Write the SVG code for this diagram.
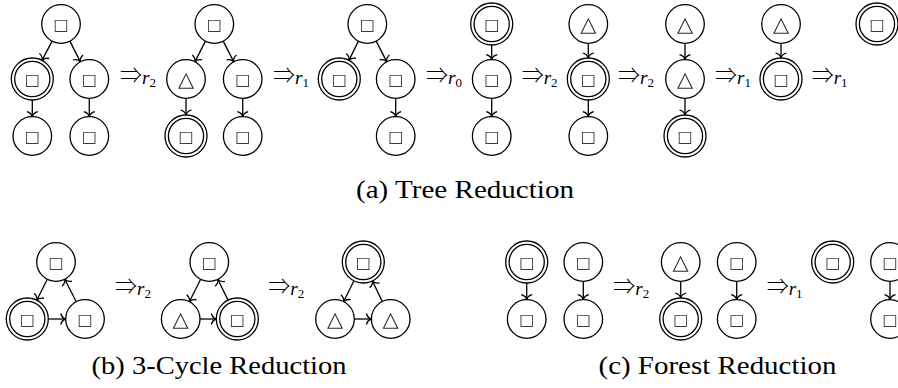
<svg xmlns="http://www.w3.org/2000/svg" width="898" height="388" viewBox="0 0 898 388">
<style>
.c{fill:#fff;stroke:#000;stroke-width:1.3}
.ci{fill:none;stroke:#000;stroke-width:1.3}
.sq{font-family:"DejaVu Sans",sans-serif;font-size:16px;fill:#3a3a3a;text-anchor:middle;dominant-baseline:central;filter:url(#gs)}
.tr{font-family:"DejaVu Sans",sans-serif;font-size:21px;fill:#2a2a2a;text-anchor:middle;dominant-baseline:central;filter:url(#gs)}
.e{fill:none;stroke:#000;stroke-width:1.3;marker-end:url(#to)}
.op{font-family:"Noto Sans CJK SC","DejaVu Sans",sans-serif;font-weight:300;font-size:22px;fill:#000}
.r{font-family:"Liberation Serif",serif;font-style:italic;font-weight:400;font-size:19px}
.s{font-family:"Liberation Serif",serif;font-weight:400;font-size:13px}
.cap{font-family:"Liberation Serif",serif;font-size:26px;fill:#000;text-anchor:middle}
</style>
<defs>
<filter id="gs" x="-20%" y="-20%" width="140%" height="140%"><feOffset dx="0" dy="0"/></filter>
<marker id="to" viewBox="-7 -7 9 14" refX="0" refY="0" markerWidth="9" markerHeight="14" markerUnits="userSpaceOnUse" orient="auto">
<path d="M-5,-5.5 C-4,-2 -1.5,-0.4 0,0 C-1.5,0.4 -4,2 -5,5.5" fill="none" stroke="#000" stroke-width="1.3"/>
</marker>
<g id="S"><circle class="c" r="19.3"/></g>
<g id="D"><circle class="c" r="21"/><circle class="ci" r="17.6"/></g>
</defs>

<g id="connectors">
<path class="e" d="M52.12,41.14 L41.96,60.35"/>
<path class="e" d="M69.88,41.14 L80.42,61.86"/>
<path class="e" d="M32.3,100 L32.3,116.7"/>
<path class="e" d="M89.3,98.3 L89.3,116.7"/>
<path class="e" d="M205.42,41.14 L194.88,61.86"/>
<path class="e" d="M223.18,41.14 L233.82,61.86"/>
<path class="e" d="M186,98.3 L186,115"/>
<path class="e" d="M242.7,98.3 L242.7,116.7"/>
<path class="e" d="M358.42,41.14 L348.96,60.35"/>
<path class="e" d="M376.18,41.14 L386.82,61.86"/>
<path class="e" d="M395.7,98.3 L395.7,116.7"/>
<path class="e" d="M491.7,45 L491.7,59.7"/>
<path class="e" d="M491.7,98.3 L491.7,116.7"/>
<path class="e" d="M588.3,43.3 L588.3,58"/>
<path class="e" d="M588.3,100 L588.3,116.7"/>
<path class="e" d="M685,43.3 L685,59.7"/>
<path class="e" d="M685,98.3 L685,115"/>
<path class="e" d="M781,43.3 L781,58"/>
<path class="e" d="M47.32,279.24 L36.74,300.24"/>
<path class="e" d="M48.3,319 L65.7,319"/>
<path class="e" d="M76.25,301.8 L64.75,279.2"/>
<path class="e" d="M200.65,279.25 L189.35,301.75"/>
<path class="e" d="M200,319 L216.3,319"/>
<path class="e" d="M228.04,300.15 L217.81,279.32"/>
<path class="e" d="M353.96,280.81 L343.58,301.71"/>
<path class="e" d="M354.3,319 L371.4,319"/>
<path class="e" d="M382.34,301.6 L372.4,280.93"/>
<path class="e" d="M526.7,283 L526.7,299.7"/>
<path class="e" d="M583.3,281.3 L583.3,299.7"/>
<path class="e" d="M680.7,281.3 L680.7,298"/>
<path class="e" d="M736.7,281.3 L736.7,299.7"/>
<path class="e" d="M890,281.3 L890,299.7"/>
</g>

<g id="a1-top"><use href="#S" x="61" y="24"/><text class="sq" x="61" y="24">□</text></g>
<g id="a1-ml"><use href="#D" x="32.3" y="79"/><text class="sq" x="32.3" y="79">□</text></g>
<g id="a1-mr"><use href="#S" x="89.3" y="79"/><text class="sq" x="89.3" y="79">□</text></g>
<g id="a1-bl"><use href="#S" x="32.3" y="136"/><text class="sq" x="32.3" y="136">□</text></g>
<g id="a1-br"><use href="#S" x="89.3" y="136"/><text class="sq" x="89.3" y="136">□</text></g>

<g id="a2-top"><use href="#S" x="214.3" y="24"/><text class="sq" x="214.3" y="24">□</text></g>
<g id="a2-ml"><use href="#S" x="186" y="79"/><text class="tr" x="186" y="79">△</text></g>
<g id="a2-mr"><use href="#S" x="242.7" y="79"/><text class="sq" x="242.7" y="79">□</text></g>
<g id="a2-bl"><use href="#D" x="186" y="136"/><text class="sq" x="186" y="136">□</text></g>
<g id="a2-br"><use href="#S" x="242.7" y="136"/><text class="sq" x="242.7" y="136">□</text></g>

<g id="a3-top"><use href="#S" x="367.3" y="24"/><text class="sq" x="367.3" y="24">□</text></g>
<g id="a3-ml"><use href="#D" x="339.3" y="79"/><text class="sq" x="339.3" y="79">□</text></g>
<g id="a3-mr"><use href="#S" x="395.7" y="79"/><text class="sq" x="395.7" y="79">□</text></g>
<g id="a3-br"><use href="#S" x="395.7" y="136"/><text class="sq" x="395.7" y="136">□</text></g>

<g id="a4-top"><use href="#D" x="491.7" y="24"/><text class="sq" x="491.7" y="24">□</text></g>
<g id="a4-mid"><use href="#S" x="491.7" y="79"/><text class="sq" x="491.7" y="79">□</text></g>
<g id="a4-bot"><use href="#S" x="491.7" y="136"/><text class="sq" x="491.7" y="136">□</text></g>

<g id="a5-top"><use href="#S" x="588.3" y="24"/><text class="tr" x="588.3" y="24">△</text></g>
<g id="a5-mid"><use href="#D" x="588.3" y="79"/><text class="sq" x="588.3" y="79">□</text></g>
<g id="a5-bot"><use href="#S" x="588.3" y="136"/><text class="sq" x="588.3" y="136">□</text></g>

<g id="a6-top"><use href="#S" x="685" y="24"/><text class="tr" x="685" y="24">△</text></g>
<g id="a6-mid"><use href="#S" x="685" y="79"/><text class="tr" x="685" y="79">△</text></g>
<g id="a6-bot"><use href="#D" x="685" y="136"/><text class="sq" x="685" y="136">□</text></g>

<g id="a7-top"><use href="#S" x="781" y="24"/><text class="tr" x="781" y="24">△</text></g>
<g id="a7-mid"><use href="#D" x="781" y="79"/><text class="sq" x="781" y="79">□</text></g>

<g id="a8-top"><use href="#D" x="877" y="24"/><text class="sq" x="877" y="24">□</text></g>

<g id="ops-a">
<text class="op" x="120" y="83">⇒<tspan class="r" dy="1">r</tspan><tspan class="s" dy="3">2</tspan></text>
<text class="op" x="273" y="83">⇒<tspan class="r" dy="1">r</tspan><tspan class="s" dy="3">1</tspan></text>
<text class="op" x="426" y="83">⇒<tspan class="r" dy="1">r</tspan><tspan class="s" dy="3">0</tspan></text>
<text class="op" x="521.7" y="83">⇒<tspan class="r" dy="1">r</tspan><tspan class="s" dy="3">2</tspan></text>
<text class="op" x="618" y="83">⇒<tspan class="r" dy="1">r</tspan><tspan class="s" dy="3">2</tspan></text>
<text class="op" x="715" y="83">⇒<tspan class="r" dy="1">r</tspan><tspan class="s" dy="3">1</tspan></text>
<text class="op" x="811.7" y="83">⇒<tspan class="r" dy="1">r</tspan><tspan class="s" dy="3">1</tspan></text>
</g>
<text class="cap" x="465" y="198" textLength="218" lengthAdjust="spacingAndGlyphs">(a) Tree Reduction</text>

<g id="b1-top"><use href="#S" x="56" y="262"/><text class="sq" x="56" y="262">□</text></g>
<g id="b1-bl"><use href="#D" x="27.3" y="319"/><text class="sq" x="27.3" y="319">□</text></g>
<g id="b1-br"><use href="#S" x="85" y="319"/><text class="sq" x="85" y="319">□</text></g>

<g id="b2-top"><use href="#S" x="209.3" y="262"/><text class="sq" x="209.3" y="262">□</text></g>
<g id="b2-bl"><use href="#S" x="180.7" y="319"/><text class="tr" x="180.7" y="319">△</text></g>
<g id="b2-br"><use href="#D" x="237.3" y="319"/><text class="sq" x="237.3" y="319">□</text></g>

<g id="b3-top"><use href="#D" x="363.3" y="262"/><text class="sq" x="363.3" y="262">□</text></g>
<g id="b3-bl"><use href="#S" x="335" y="319"/><text class="tr" x="335" y="319">△</text></g>
<g id="b3-br"><use href="#S" x="390.7" y="319"/><text class="tr" x="390.7" y="319">△</text></g>

<g id="ops-b">
<text class="op" x="115" y="294">⇒<tspan class="r" dy="1">r</tspan><tspan class="s" dy="3">2</tspan></text>
<text class="op" x="268.3" y="294">⇒<tspan class="r" dy="1">r</tspan><tspan class="s" dy="3">2</tspan></text>
</g>
<text class="cap" x="219" y="374" textLength="255" lengthAdjust="spacingAndGlyphs">(b) 3-Cycle Reduction</text>

<g id="c1-t1"><use href="#D" x="526.7" y="262"/><text class="sq" x="526.7" y="262">□</text></g>
<g id="c1-b1"><use href="#S" x="526.7" y="319"/><text class="sq" x="526.7" y="319">□</text></g>
<g id="c1-t2"><use href="#S" x="583.3" y="262"/><text class="sq" x="583.3" y="262">□</text></g>
<g id="c1-b2"><use href="#S" x="583.3" y="319"/><text class="sq" x="583.3" y="319">□</text></g>

<g id="c2-t1"><use href="#S" x="680.7" y="262"/><text class="tr" x="680.7" y="262">△</text></g>
<g id="c2-b1"><use href="#D" x="680.7" y="319"/><text class="sq" x="680.7" y="319">□</text></g>
<g id="c2-t2"><use href="#S" x="736.7" y="262"/><text class="sq" x="736.7" y="262">□</text></g>
<g id="c2-b2"><use href="#S" x="736.7" y="319"/><text class="sq" x="736.7" y="319">□</text></g>

<g id="c3-t1"><use href="#D" x="832.7" y="262"/><text class="sq" x="832.7" y="262">□</text></g>
<g id="c3-t2"><use href="#S" x="890" y="262"/><text class="sq" x="890" y="262">□</text></g>
<g id="c3-b2"><use href="#S" x="890" y="319"/><text class="sq" x="890" y="319">□</text></g>

<g id="ops-c">
<text class="op" x="613.3" y="294">⇒<tspan class="r" dy="1">r</tspan><tspan class="s" dy="3">2</tspan></text>
<text class="op" x="766.7" y="294">⇒<tspan class="r" dy="1">r</tspan><tspan class="s" dy="3">1</tspan></text>
</g>
<text class="cap" x="717.5" y="374" textLength="238" lengthAdjust="spacingAndGlyphs">(c) Forest Reduction</text>
</svg>
